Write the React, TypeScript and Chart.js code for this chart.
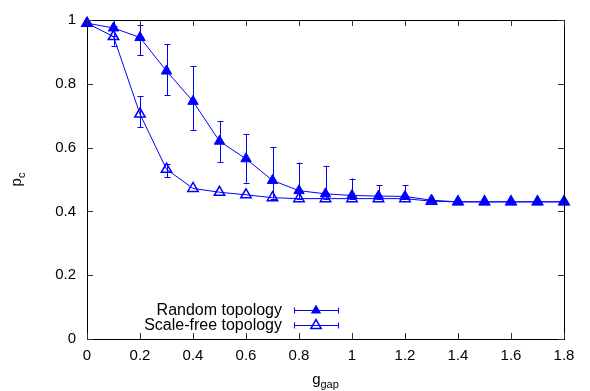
import React, { useEffect, useRef } from "react";
import { Chart, registerables } from "chart.js";

Chart.register(...registerables);

const gGap = [0, 0.1, 0.2, 0.3, 0.4, 0.5, 0.6, 0.7, 0.8, 0.9, 1.0, 1.1, 1.2, 1.3, 1.4, 1.5, 1.6, 1.7, 1.8];

const randomPc = [0.99, 0.975, 0.945, 0.84, 0.745, 0.62, 0.565, 0.497, 0.465, 0.455, 0.45, 0.448, 0.447, 0.435, 0.43, 0.43, 0.43, 0.43, 0.43];
const randomLow = [null, 0.95, 0.89, 0.765, 0.655, 0.555, 0.49, 0.44, 0.44, 0.44, 0.44, 0.44, 0.44, null, null, null, null, null, null];
const randomHigh = [null, 1.0, 0.985, 0.925, 0.855, 0.683, 0.643, 0.602, 0.553, 0.543, 0.503, 0.482, 0.482, null, null, null, null, null, null];

const scaleFreePc = [0.99, 0.948, 0.705, 0.532, 0.472, 0.46, 0.452, 0.443, 0.44, 0.44, 0.44, 0.44, 0.44, 0.432, 0.43, 0.43, 0.43, 0.43, 0.43];
const scaleFreeLow = [null, 0.92, 0.665, 0.507, null, null, null, null, null, null, null, null, null, null, null, null, null, null, null];
const scaleFreeHigh = [null, 0.98, 0.762, 0.55, null, null, null, null, null, null, null, null, null, null, null, null, null, null, null];

const seriesLabels = ["Random topology", "Scale-free topology"];
const yTicks = [0, 0.2, 0.4, 0.6, 0.8, 1];
const xTicks = [0, 0.2, 0.4, 0.6, 0.8, 1, 1.2, 1.4, 1.6, 1.8];

const BLUE = "rgb(0,0,255)";
const FONT = "'Liberation Sans', Arial, Helvetica, sans-serif";
const MARK_R = 6;

const chartPlugin = {
  id: "gnuplotStyle",
  beforeDatasetsDraw(chart: any) {
    const { ctx, scales } = chart;
    const x = scales.x;
    const y = scales.y;
    const bars = [
      [randomLow, randomHigh],
      [scaleFreeLow, scaleFreeHigh],
    ];
    ctx.save();
    ctx.strokeStyle = BLUE;
    ctx.lineWidth = 1;
    bars.forEach(([lo, hi]) => {
      gGap.forEach((gv, i) => {
        const l = lo[i];
        const h = hi[i];
        if (l == null || h == null) return;
        const px = Math.round(x.getPixelForValue(gv)) + 0.5;
        const py1 = y.getPixelForValue(l);
        const py2 = y.getPixelForValue(h);
        ctx.beginPath();
        ctx.moveTo(px, py1);
        ctx.lineTo(px, py2);
        ctx.moveTo(px - 3, Math.round(py1) + 0.5);
        ctx.lineTo(px + 3, Math.round(py1) + 0.5);
        ctx.moveTo(px - 3, Math.round(py2) + 0.5);
        ctx.lineTo(px + 3, Math.round(py2) + 0.5);
        ctx.stroke();
      });
    });
    ctx.restore();
  },
  afterDraw(chart: any) {
    const { ctx, chartArea, scales } = chart;
    const { left, right, top, bottom } = chartArea;
    const x = scales.x;
    const y = scales.y;
    ctx.save();
    // frame
    ctx.strokeStyle = "#000";
    ctx.lineWidth = 1;
    ctx.strokeRect(Math.round(left) + 0.5, Math.round(top) + 0.5, Math.round(right - left), Math.round(bottom - top));
    // inward ticks
    ctx.strokeStyle = "#333";
    ctx.beginPath();
    yTicks.forEach((v) => {
      const py = Math.round(y.getPixelForValue(v)) + 0.5;
      ctx.moveTo(left, py);
      ctx.lineTo(left + 6, py);
      ctx.moveTo(right, py);
      ctx.lineTo(right - 6, py);
    });
    xTicks.forEach((v) => {
      const px = Math.round(x.getPixelForValue(v)) + 0.5;
      ctx.moveTo(px, bottom);
      ctx.lineTo(px, bottom - 6);
      ctx.moveTo(px, top);
      ctx.lineTo(px, top + 6);
    });
    ctx.stroke();

    // axis titles
    ctx.fillStyle = "#000";
    ctx.textBaseline = "alphabetic";
    ctx.textAlign = "left";
    // x title g_gap
    ctx.font = `15px ${FONT}`;
    const gW = ctx.measureText("g").width;
    ctx.font = `11px ${FONT}`;
    const gapW = ctx.measureText("gap").width;
    const cx = (left + right) / 2;
    const startX = cx - (gW + gapW) / 2;
    ctx.font = `15px ${FONT}`;
    ctx.fillText("g", startX, 384);
    ctx.font = `11px ${FONT}`;
    ctx.fillText("gap", startX + gW, 388);

    // y title p_c
    ctx.save();
    ctx.translate(21, (top + bottom) / 2);
    ctx.rotate(-Math.PI / 2);
    ctx.font = `15px ${FONT}`;
    const pW = ctx.measureText("p").width;
    ctx.font = `11px ${FONT}`;
    const cW = ctx.measureText("c").width;
    const sx = -(pW + cW) / 2;
    ctx.font = `15px ${FONT}`;
    ctx.fillText("p", sx, 0);
    ctx.font = `11px ${FONT}`;
    ctx.fillText("c", sx + pW, 4);
    ctx.restore();

    // legend
    const rows = [
      { label: seriesLabels[0], y: 310, fill: true },
      { label: seriesLabels[1], y: 325, fill: false },
    ];
    rows.forEach((r) => {
      ctx.fillStyle = "#000";
      ctx.font = `16px ${FONT}`;
      ctx.textAlign = "right";
      ctx.textBaseline = "middle";
      ctx.fillText(r.label, 282, r.y + 1);
      ctx.strokeStyle = BLUE;
      ctx.lineWidth = 1;
      const yy = Math.round(r.y) + 0.5;
      ctx.beginPath();
      ctx.moveTo(294, yy);
      ctx.lineTo(339, yy);
      ctx.moveTo(294.5, yy - 3);
      ctx.lineTo(294.5, yy + 3);
      ctx.moveTo(338.5, yy - 3);
      ctx.lineTo(338.5, yy + 3);
      ctx.stroke();
      // triangle marker
      const mx = 316;
      const rad = MARK_R;
      ctx.beginPath();
      ctx.moveTo(mx, yy - rad);
      ctx.lineTo(mx + rad * Math.sin((2 * Math.PI) / 3), yy - rad * Math.cos((2 * Math.PI) / 3));
      ctx.lineTo(mx + rad * Math.sin((4 * Math.PI) / 3), yy - rad * Math.cos((4 * Math.PI) / 3));
      ctx.closePath();
      if (r.fill) {
        ctx.fillStyle = BLUE;
        ctx.fill();
      } else {
        ctx.lineWidth = 1.5;
        ctx.stroke();
      }
    });
    ctx.restore();
  },
};

export default function App() {
  const canvasRef = useRef<HTMLCanvasElement | null>(null);

  useEffect(() => {
    document.body.style.margin = "0";
    const canvas = canvasRef.current;
    if (!canvas) return;
    const chart = new Chart(canvas, {
      type: "line",
      data: {
        datasets: [
          {
            label: seriesLabels[0],
            data: gGap.map((g, i) => ({ x: g, y: randomPc[i] })),
            borderColor: BLUE,
            backgroundColor: BLUE,
            borderWidth: 1,
            pointStyle: "triangle",
            pointRadius: MARK_R,
            pointBorderWidth: 1,
            pointBackgroundColor: BLUE,
            pointBorderColor: BLUE,
            tension: 0,
            clip: false,
          } as any,
          {
            label: seriesLabels[1],
            data: gGap.map((g, i) => ({ x: g, y: scaleFreePc[i] })),
            borderColor: BLUE,
            backgroundColor: "rgba(0,0,0,0)",
            borderWidth: 1,
            pointStyle: "triangle",
            pointRadius: MARK_R,
            pointBorderWidth: 1.5,
            pointBackgroundColor: "rgba(0,0,0,0)",
            pointBorderColor: BLUE,
            tension: 0,
            clip: false,
          } as any,
        ],
      },
      options: {
        animation: false,
        responsive: false,
        maintainAspectRatio: false,
        layout: { padding: { left: 0, top: 16, right: 26, bottom: 0 } },
        plugins: {
          legend: { display: false },
          tooltip: { enabled: false },
        },
        scales: {
          x: {
            type: "linear",
            min: 0,
            max: 1.8,
            afterFit(scale: any) {
              scale.height = 52;
            },
            afterBuildTicks(scale: any) {
              scale.ticks = xTicks.map((v) => ({ value: v }));
            },
            grid: { display: false, drawTicks: false },
            border: { display: false },
            ticks: {
              color: "#000",
              font: { family: FONT, size: 15 },
              padding: 8,
              maxRotation: 0,
              autoSkip: false,
              callback: (v: any) => String(Math.round(Number(v) * 10) / 10),
            },
          },
          y: {
            type: "linear",
            min: 0,
            max: 1,
            afterFit(scale: any) {
              scale.width = 87;
            },
            afterBuildTicks(scale: any) {
              scale.ticks = yTicks.map((v) => ({ value: v }));
            },
            grid: { display: false, drawTicks: false },
            border: { display: false },
            ticks: {
              color: "#000",
              font: { family: FONT, size: 15 },
              padding: 11,
              autoSkip: false,
              callback: (v: any) => String(Math.round(Number(v) * 10) / 10),
            },
          },
        },
      },
      plugins: [chartPlugin],
    });
    return () => chart.destroy();
  }, []);

  return (
    <div style={{ position: "absolute", left: 0, top: 0, width: 590, height: 391, background: "#fff" }}>
      <canvas ref={canvasRef} width={590} height={391} style={{ width: 590, height: 391 }} />
    </div>
  );
}
